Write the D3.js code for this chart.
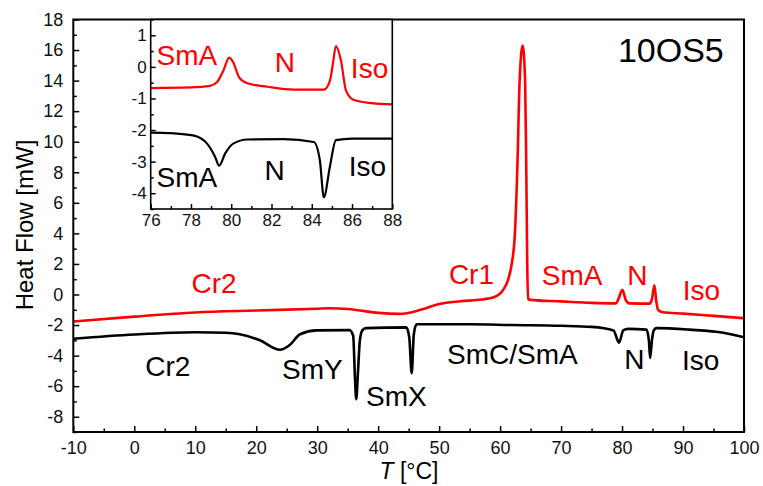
<!DOCTYPE html>
<html>
<head>
<meta charset="utf-8">
<script src="https://cdn.jsdelivr.net/npm/d3@7"></script>
<style>
  body { margin: 0; background: #fff; }
  svg text { font-family: "Liberation Sans", Arial, sans-serif; }
</style>
</head>
<body>
<svg id="mainsvg" width="763" height="486"></svg>
<script>
// main curves: temperature [°C] and heat flow [mW]
const redT = [-10, 0, 10, 20, 30, 32, 35, 37, 40, 43.5, 47, 50, 53.5, 57, 59, 60.5, 61.3, 61.9, 62.4, 62.85, 63.2, 63.7, 64.1, 64.3, 64.45, 64.6, 65, 70, 75, 79, 79.4, 80.05, 80.6, 81.2, 84.5, 84.9, 85.3, 85.6, 85.9, 86.7, 90, 95, 100];
const redHF = [-1.77, -1.45, -1.18, -1.05, -0.93, -0.9, -0.95, -1.05, -1.2, -1.27, -1.0, -0.62, -0.44, -0.33, -0.18, 0.3, 0.95, 2.0, 3.8, 8.6, 14.0, 16.3, 14.0, 8.0, 2.0, -0.3, -0.35, -0.45, -0.55, -0.58, -0.3, 0.3, -0.35, -0.58, -0.6, -0.3, 0.6, -0.4, -1.0, -1.16, -1.25, -1.4, -1.55];

const blackT = [-10, 0, 10, 15, 17.3, 20.6, 23.9, 25.5, 27.2, 29.9, 35.3, 35.9, 36.2, 36.4, 36.7, 37.0, 37.4, 38, 44.6, 45.1, 45.5, 45.85, 46.3, 55, 62, 70, 75, 78.6, 79.5, 80.2, 81, 84, 84.4, 84.6, 84.9, 85.2, 85.6, 91, 96.6, 100];
const blackHF = [-2.9, -2.62, -2.47, -2.5, -2.6, -3.0, -3.62, -3.3, -2.6, -2.35, -2.33, -2.7, -5.5, -6.85, -5.0, -3.0, -2.35, -2.2, -2.15, -2.8, -5.15, -2.6, -1.95, -1.95, -2.0, -2.05, -2.12, -2.35, -3.15, -2.35, -2.25, -2.3, -3.0, -4.15, -3.0, -2.35, -2.2, -2.3, -2.5, -2.8];

// inset (zoom 76-88 °C)
const insetRedT = [76, 78, 78.95, 79.3, 79.6, 79.9, 80.1, 80.4, 80.8, 81.8, 83.1, 84.6, 84.9, 85.05, 85.2, 85.45, 85.7, 86.1, 87, 88];
const insetRedHF = [-0.67, -0.65, -0.6, -0.48, -0.13, 0.29, 0.14, -0.34, -0.52, -0.63, -0.72, -0.72, -0.44, 0.1, 0.66, 0.2, -0.75, -1.05, -1.15, -1.19];
const insetBlackT = [76, 77, 78.1, 78.8, 79.2, 79.4, 79.7, 80.1, 80.8, 82.6, 84.1, 84.4, 84.6, 84.9, 85.2, 86, 88];
const insetBlackHF = [-2.08, -2.1, -2.17, -2.43, -2.85, -3.13, -2.74, -2.43, -2.3, -2.29, -2.38, -2.95, -4.13, -3.16, -2.32, -2.27, -2.27];

// phase labels [text, T, HF]
const mainRedLabels = [['Cr2', 13.1, 0.07], ['Cr1', 55.3, 0.72], ['SmA', 71.8, 0.59], ['N', 82.5, 0.59], ['Iso', 93, -0.39]];
const mainBlackLabels = [['Cr2', 5.5, -5.31], ['SmY', 29.2, -5.51], ['SmX', 43, -7.28], ['SmC/SmA', 62, -4.52], ['N', 82, -4.85], ['Iso', 92.9, -4.92]];
const insetRedLabels = [['SmA', 77.8, 0.06], ['N', 82.67, -0.16], ['Iso', 86.87, -0.35]];
const insetBlackLabels = [['SmA', 77.8, -3.8], ['N', 82.15, -3.58], ['Iso', 86.77, -3.46]];

const xTicks = d3.range(-10, 101, 10);
const yTicks = d3.range(-8, 19, 2);
const insetXTicks = d3.range(76, 89, 2);
const insetYTicks = d3.range(-4, 2, 1);

const RED = '#ff0000';
const svg = d3.select('#mainsvg');

const toPts = (xs, ys) => xs.map((x, i) => [x, ys[i]]);
const plainNum = d => String(d); // hyphen minus like the original

const drawPanel = (opt) => {
  const xScale = d3.scaleLinear().domain(opt.xDomain).range([opt.left, opt.right]);
  const yScale = d3.scaleLinear().domain(opt.yDomain).range([opt.bottom, opt.top]);
  const g = svg.append('g');
  const w = opt.right - opt.left, h = opt.bottom - opt.top;

  g.append('rect').attr('x', opt.left).attr('y', opt.top)
    .attr('width', w).attr('height', h).attr('fill', '#fff');

  // minor ticks
  g.append('g').attr('transform', `translate(0, ${opt.bottom})`)
    .call(d3.axisBottom(xScale).tickValues(opt.xMinor).tickSize(-opt.minorLen).tickFormat(''))
    .call(a => a.select('.domain').remove())
    .call(a => a.selectAll('line').attr('stroke-width', 1.5));
  g.append('g').attr('transform', `translate(${opt.left}, 0)`)
    .call(d3.axisLeft(yScale).tickValues(opt.yMinor).tickSize(-opt.minorLen).tickFormat(''))
    .call(a => a.select('.domain').remove())
    .call(a => a.selectAll('line').attr('stroke-width', 1.5));

  // major ticks
  g.append('g').attr('transform', `translate(0, ${opt.bottom})`)
    .call(d3.axisBottom(xScale).tickValues(opt.xTicks).tickSize(-opt.majorLen).tickPadding(opt.xPad).tickFormat(plainNum))
    .call(a => a.select('.domain').remove())
    .call(a => a.selectAll('line').attr('stroke-width', 1.5))
    .call(a => a.selectAll('text').attr('font-size', opt.tickFont).attr('fill', '#111')
      .style('font-family', '"Liberation Sans", Arial, sans-serif'));
  g.append('g').attr('transform', `translate(${opt.left}, 0)`)
    .call(d3.axisLeft(yScale).tickValues(opt.yTicks).tickSize(-opt.majorLen).tickPadding(opt.yPad).tickFormat(plainNum))
    .call(a => a.select('.domain').remove())
    .call(a => a.selectAll('line').attr('stroke-width', 1.5))
    .call(a => a.selectAll('text').attr('font-size', opt.tickFont).attr('fill', '#111')
      .style('font-family', '"Liberation Sans", Arial, sans-serif'));

  const line = d3.line()
    .x(d => xScale(d[0]))
    .y(d => yScale(d[1]))
    .curve(d3.curveMonotoneX);

  opt.series.forEach(s => {
    g.append('path').datum(s.pts)
      .attr('d', line)
      .attr('fill', 'none')
      .attr('stroke', s.color)
      .attr('stroke-width', opt.lineWidth)
      .attr('stroke-linejoin', 'round');
  });

  opt.labels.forEach(set => {
    g.selectAll(null).data(set.items).enter().append('text')
      .attr('x', d => xScale(d[1]))
      .attr('y', d => yScale(d[2]))
      .attr('text-anchor', 'middle')
      .attr('font-size', opt.labelFont)
      .attr('fill', set.color)
      .text(d => d[0]);
  });

  g.append('rect').attr('x', opt.left).attr('y', opt.top)
    .attr('width', w).attr('height', h)
    .attr('fill', 'none').attr('stroke', '#000').attr('stroke-width', opt.frameWidth);

  return { xScale, yScale, g };
};

const main = drawPanel({
  left: 73.3, right: 744, top: 19.5, bottom: 432,
  xDomain: [-10, 100], yDomain: [-9, 18],
  xTicks: xTicks, yTicks: yTicks,
  xMinor: d3.range(-5, 100, 10), yMinor: d3.range(-9, 18, 2),
  majorLen: 6, minorLen: 3.5, xPad: 9, yPad: 10, tickFont: 18,
  lineWidth: 2.6, frameWidth: 2, labelFont: 28,
  series: [
    { pts: toPts(redT, redHF), color: RED },
    { pts: toPts(blackT, blackHF), color: '#000' }
  ],
  labels: [
    { items: mainRedLabels, color: RED },
    { items: mainBlackLabels, color: '#000' }
  ]
});

main.g.append('text')
  .attr('x', main.xScale(88))
  .attr('y', main.yScale(15.2))
  .attr('text-anchor', 'middle')
  .attr('font-size', 34)
  .attr('fill', '#000')
  .text('10OS5');

drawPanel({
  left: 150.7, right: 392.3, top: 19.5, bottom: 209,
  xDomain: [76, 88], yDomain: [-4.5, 1.5],
  xTicks: insetXTicks, yTicks: insetYTicks,
  xMinor: d3.range(77, 88, 2), yMinor: d3.range(-4.5, 1.6, 1),
  majorLen: 5, minorLen: 3, xPad: 5, yPad: 4, tickFont: 17,
  lineWidth: 2.2, frameWidth: 1.6, labelFont: 28,
  series: [
    { pts: toPts(insetRedT, insetRedHF), color: RED },
    { pts: toPts(insetBlackT, insetBlackHF), color: '#000' }
  ],
  labels: [
    { items: insetRedLabels, color: RED },
    { items: insetBlackLabels, color: '#000' }
  ]
});

// axis titles
svg.append('text')
  .attr('transform', `translate(33, 225) rotate(-90)`)
  .attr('text-anchor', 'middle')
  .attr('font-size', 24)
  .text('Heat Flow [mW]');

const xt = svg.append('text')
  .attr('x', 409)
  .attr('y', 479)
  .attr('text-anchor', 'middle')
  .attr('font-size', 23);
xt.append('tspan').attr('font-style', 'italic').text('T');
xt.append('tspan').text(' [°C]');
</script>
</body>
</html>
